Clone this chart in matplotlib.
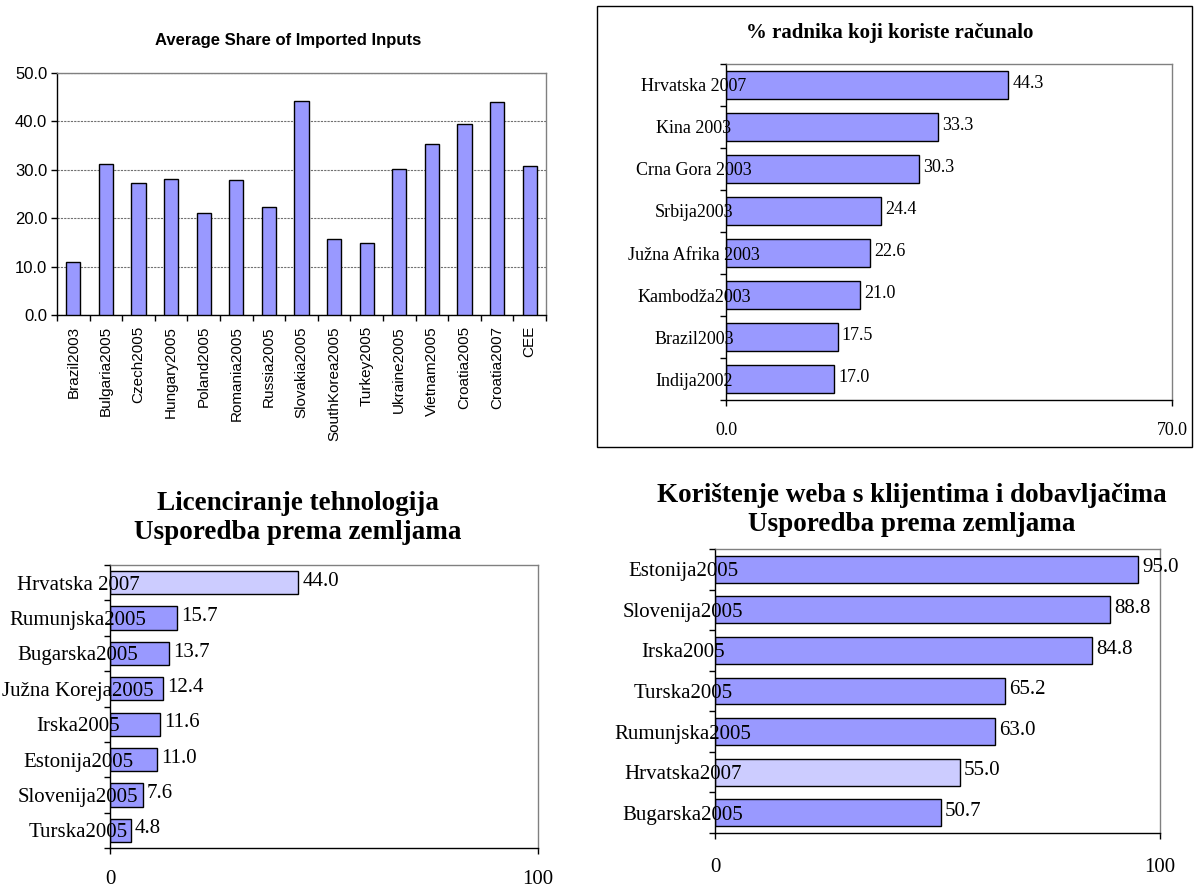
import numpy as np
import matplotlib.pyplot as plt
from matplotlib.patches import Rectangle

# --- data ---
imp_countries = ['Brazil2003', 'Bulgaria2005', 'Czech2005', 'Hungary2005', 'Poland2005',
                 'Romania2005', 'Russia2005', 'Slovakia2005', 'SouthKorea2005', 'Turkey2005',
                 'Ukraine2005', 'Vietnam2005', 'Croatia2005', 'Croatia2007', 'CEE']
imp_share = [11.0, 31.3, 27.2, 28.1, 21.1, 27.8, 22.3, 44.3, 15.7, 14.8, 30.2, 35.3, 39.4, 44.1, 30.8]

comp_countries = ['Hrvatska 2007', 'Kina 2003', 'Crna Gora 2003', 'Srbija2003',
                  'Južna Afrika 2003', 'Kambodža2003', 'Brazil2003', 'Indija2002']
comp_share = [44.3, 33.3, 30.3, 24.4, 22.6, 21.0, 17.5, 17.0]

lic_countries = ['Hrvatska 2007', 'Rumunjska2005', 'Bugarska2005', 'Južna Koreja2005',
                 'Irska2005', 'Estonija2005', 'Slovenija2005', 'Turska2005']
lic_share = [44.0, 15.7, 13.7, 12.4, 11.6, 11.0, 7.6, 4.8]

web_countries = ['Estonija2005', 'Slovenija2005', 'Irska2005', 'Turska2005',
                 'Rumunjska2005', 'Hrvatska2007', 'Bugarska2005']
web_share = [95.0, 88.8, 84.8, 65.2, 63.0, 55.0, 50.7]

W, H = 1194, 890
SERIF = 'Liberation Serif'
SANS = 'Liberation Sans'
BAR = '#9999ff'
LIGHT = '#ccccff'
FRAME = '#808080'

fig = plt.figure(figsize=(W / 100, H / 100), dpi=100)


def rect(l, t, r, b):
    return [l / W, 1 - b / H, (r - l) / W, (b - t) / H]


def style_spines(ax):
    for s in ['left', 'bottom']:
        ax.spines[s].set_color('black')
        ax.spines[s].set_linewidth(1)
    for s in ['top', 'right']:
        ax.spines[s].set_color(FRAME)
        ax.spines[s].set_linewidth(1)


# --- top left: vertical bars ---
ax = fig.add_axes(rect(57, 73, 546, 315))
x = np.arange(len(imp_countries))
ax.bar(x, imp_share, width=0.43, color=BAR, edgecolor='black', linewidth=1, zorder=3)
ax.set_xlim(-0.5, len(x) - 0.5)
ax.set_ylim(0, 50)
yt = np.arange(0, 51, 10)
ax.set_yticks(yt)
ax.set_yticklabels([f'{v:.1f}' for v in yt], fontfamily=SANS, fontsize=12)
ax.yaxis.grid(True, color='#707070', linestyle=(0, (2, 1)), linewidth=0.8)
ax.set_axisbelow(True)
ax.set_xticks(x)
ax.set_xticklabels(imp_countries, rotation=90, fontfamily=SANS, fontsize=11)
ax.set_xticks(np.arange(-0.5, len(x), 1), minor=True)
ax.tick_params(axis='x', which='major', length=0, pad=8)
ax.tick_params(axis='x', which='minor', length=4.5, width=1, direction='out')
ax.tick_params(axis='y', length=4, width=1, pad=3)
style_spines(ax)
fig.text(288 / W, 1 - 40 / H, 'Average Share of Imported Inputs', ha='center', va='center',
         fontsize=12, fontweight='bold', family=SANS)


# --- horizontal bar charts ---
def hbars(box, cats, vals, xmax, xlabels, fs, highlight, xpad):
    ax = fig.add_axes(rect(*box))
    y = np.arange(len(cats))
    colors = [LIGHT if highlight and c.startswith('Hrvatska') else BAR for c in cats]
    ax.barh(y, vals, height=0.66, color=colors, edgecolor='black', linewidth=1, zorder=2)
    ax.set_xlim(0, xmax)
    ax.set_ylim(len(cats) - 0.5, -0.5)
    for yi, v in zip(y, vals):
        ax.annotate(f'{v:.1f}', (v, yi), xytext=(3, 1), textcoords='offset points',
                    ha='left', va='center', fontsize=fs, family=SERIF)
    ax.set_yticks(y)
    ax.set_yticklabels(cats, fontfamily=SERIF, fontsize=fs, ha='center')
    ax.set_yticks(np.arange(-0.5, len(cats), 1), minor=True)
    ax.tick_params(axis='y', which='major', length=0, pad=23)
    ax.tick_params(axis='y', which='minor', length=4, width=1, direction='out')
    ax.set_xticks([0, xmax])
    ax.set_xticklabels(xlabels, fontfamily=SERIF, fontsize=fs)
    ax.tick_params(axis='x', length=4, width=1, pad=xpad)
    ax.yaxis.set_zorder(4)
    style_spines(ax)
    return ax


hbars((726, 64, 1172, 400), comp_countries, comp_share, 70, ['0.0', '70.0'], 13, False, 12)
fig.text(890 / W, 1 - 33 / H, '% radnika koji koriste računalo', ha='center', va='center',
         fontsize=15, fontweight='bold', family=SERIF)
fig.patches.append(Rectangle((597 / W, 1 - 447 / H), (1192 - 597) / W, (447 - 6) / H,
                             transform=fig.transFigure, fill=False, edgecolor='black', linewidth=1))

hbars((110, 565, 538, 848), lic_countries, lic_share, 100, ['0', '100'], 15, True, 12)
fig.text(298 / W, 1 - 518 / H, 'Licenciranje tehnologija\nUsporedba prema zemljama',
         ha='center', va='center', multialignment='center', linespacing=1.25,
         fontsize=19.5, fontweight='bold', family=SERIF)

hbars((715, 549, 1160, 833), web_countries, web_share, 100, ['0', '100'], 15, True, 14)
fig.text(912 / W, 1 - 510 / H, 'Korištenje weba s klijentima i dobavljačima\nUsporedba prema zemljama',
         ha='center', va='center', multialignment='center', linespacing=1.25,
         fontsize=19.5, fontweight='bold', family=SERIF)

fig.savefig('out.png', dpi=100)
